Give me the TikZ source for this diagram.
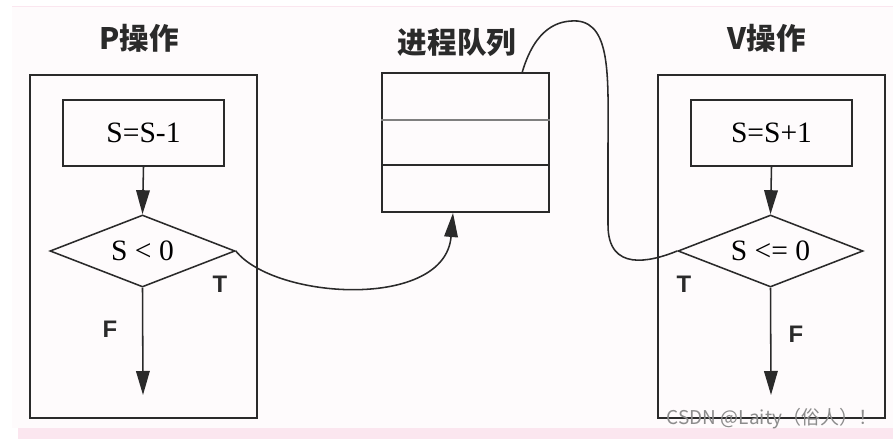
\documentclass[tikz,border=0pt]{standalone}
\usepackage{fontspec}
\setmainfont{Liberation Serif}
\setsansfont{Liberation Sans}
\newfontfamily\cjk{Noto Sans CJK SC}
\usetikzlibrary{shapes.geometric,arrows.meta}
\definecolor{ink}{HTML}{2A2A2A}
\definecolor{bgpink}{HTML}{FEFBFC}
\definecolor{bandpink}{HTML}{FBE6EF}
\begin{document}
\begin{tikzpicture}[x=0.025cm,y=-0.025cm,
  ln/.style={draw=ink,line width=1.1pt},
  outerbox/.style={ln,rectangle,minimum width=5.675cm,minimum height=8.575cm,inner sep=0pt},
  opbox/.style={ln,rectangle,minimum width=4.025cm,minimum height=1.65cm,inner sep=0pt,
     font=\fontsize{21}{23}\selectfont},
  dec/.style={ln,diamond,minimum width=4.625cm,minimum height=1.8cm,aspect=2.57,inner sep=0pt,
     font=\fontsize{21}{23}\selectfont},
  ttl/.style={font=\cjk\bfseries\fontsize{21}{24}\selectfont,text=ink},
  tf/.style={font=\sffamily\bfseries\fontsize{17}{19}\selectfont,text=ink},
  arr/.style={ln,-{Triangle[length=0.6cm,width=0.34cm]}}
]
\useasboundingbox (0,0) rectangle (893,439);
\fill[white] (0,0) rectangle (893,439);
\fill[bgpink] (12,7) rectangle (893,428);
\draw[bandpink,line width=0.8pt] (12,6.5) -- (893,6.5);
\fill[bandpink] (18,428) rectangle (893,439);

% titles
\node[ttl] (tP) at (139,38) {P操作};
\node[ttl] (tQ) at (457,43) {进程队列};
\node[ttl] (tV) at (767,38) {V操作};

% P operation
\node[outerbox] (oP) at (143.5,246.5) {};
\node[opbox] (bP) at (143.5,133) {S=S-1};
\node[dec] (dP) at (142.5,251) {S < 0};
\coordinate (eP) at (143,395);
\draw[arr] (bP.south) -- (dP.north);
\draw[arr] (dP.south) -- (eP);
\node[tf] (TP) at (220,284) {T};
\node[tf] (FP) at (110,329) {F};

% queue
\node[ln,rectangle,minimum width=4.175cm,minimum height=3.475cm,inner sep=0pt] (q) at (465.5,142.5) {};
\draw[draw=ink!60,line width=0.9pt] (q.west |- 0,120) -- (q.east |- 0,120);
\draw[ln] (q.west |- 0,165) -- (q.east |- 0,165);
\coordinate (qin) at (453,213);
\coordinate (qout) at (522,73);

% V operation
\node[outerbox] (oV) at (771.5,246.5) {};
\node[opbox] (bV) at (771.5,133) {S=S+1};
\node[dec] (dV) at (770.5,251) {S <= 0};
\coordinate (eV) at (771,395);
\draw[arr] (bV.south) -- (dV.north);
\draw[arr] (dV.south) -- (eV);
\node[tf] (TV) at (684,284) {T};
\node[tf] (FV) at (796,334) {F};

% connectors
\draw[arr] (dP.east) .. controls (275,300) and (445,310) .. (qin);
\draw[ln] (qout) .. controls (535,28) and (558,20) .. (577,21)
   .. controls (612,24) and (608,80) .. (608,150) -- (608,225)
   .. controls (608,272) and (650,262) .. (dV.west);

% watermark
\node[font=\cjk\fontsize{13.5}{15}\selectfont,text=black!45,anchor=east] (wm) at (882,419) {CSDN @Laity（俗人）！};
\end{tikzpicture}
\end{document}
